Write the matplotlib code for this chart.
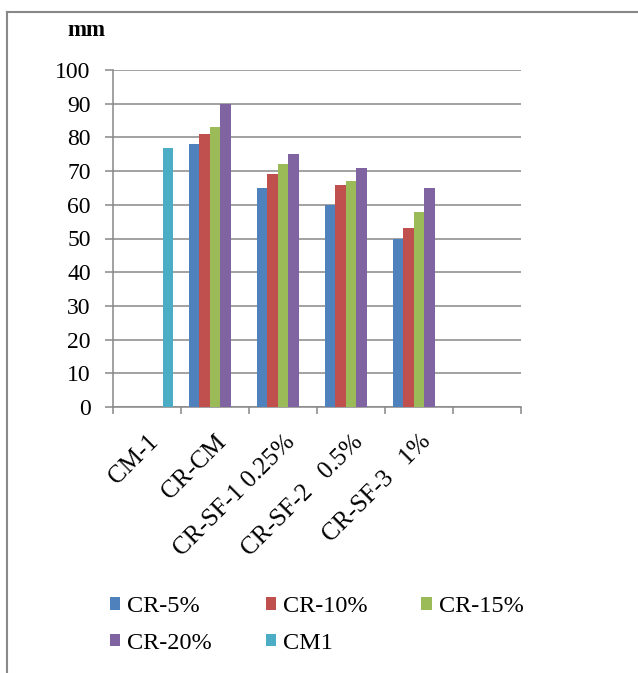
import matplotlib
matplotlib.use("Agg")
import matplotlib.pyplot as plt
import matplotlib.transforms as mtransforms
from matplotlib.lines import Line2D
import numpy as np

nan = np.nan
categories = ["CM-1", "CR-CM", "CR-SF-1 0.25%", "CR-SF-2   0.5%", "CR-SF-3   1%", ""]
series_names = ["CR-5%", "CR-10%", "CR-15%", "CR-20%", "CM1"]
cr5 = [nan, 78, 65, 60, 50, nan]
cr10 = [nan, 81, 69, 66, 53, nan]
cr15 = [nan, 83, 72, 67, 58, nan]
cr20 = [nan, 90, 75, 71, 65, nan]
cm1 = [77, nan, nan, nan, nan, nan]
colors = ["#4F81BD", "#C0504D", "#9BBB59", "#8064A2", "#4BACC6"]

plt.rcParams["font.family"] = ["Liberation Serif", "DejaVu Serif"]
grey = "#888888"

W, H = 638, 673
fig = plt.figure(figsize=(W / 100, H / 100), dpi=100)
ax = fig.add_axes([113 / W, 1 - 407 / H, 408 / W, 337 / H])

x = np.arange(len(categories)) + 0.5
w = 1 / 6.5
all_series = [cr5, cr10, cr15, cr20, cm1]
for k, vals in enumerate(all_series):
    ax.bar(x + (k - 2) * w, vals, width=w, color=colors[k], label=series_names[k], zorder=3)

ax.set_xlim(0, len(categories))
ax.set_ylim(0, 100)
ax.set_yticks(range(0, 101, 10))
ax.grid(axis="y", color=grey, linewidth=1.1)
ax.set_axisbelow(True)
for s in ["top", "right"]:
    ax.spines[s].set_visible(False)
for s in ["left", "bottom"]:
    ax.spines[s].set_color(grey)
    ax.spines[s].set_linewidth(1.1)

ax.tick_params(axis="y", length=6, width=1.1, color=grey, labelsize=17, pad=10)
ax.set_xticks(x)
ax.set_xticklabels(categories, rotation=45, ha="right", va="top", fontsize=18)
ax.set_xticks(np.arange(len(categories) + 1), minor=True)
ax.tick_params(axis="x", which="major", length=0, pad=17)
ax.tick_params(axis="x", which="minor", length=5, width=1.1, color=grey)
offset = mtransforms.ScaledTranslation(0.16, 0, fig.dpi_scale_trans)
for lab in ax.get_xticklabels():
    lab.set_transform(lab.get_transform() + offset)

fig.text(67 / W, 1 - 30 / H, "mm", fontsize=16.5, fontweight="bold", va="center", ha="left")

# outer chart frame
fig.add_artist(Line2D([7 / W, 1], [1 - 12 / H, 1 - 12 / H], color=grey, linewidth=1.5))
fig.add_artist(Line2D([7 / W, 7 / W], [0, 1 - 12 / H], color=grey, linewidth=1.5))

# legend filled row by row
handles, labels = ax.get_legend_handles_labels()
order = [0, 3, 1, 4, 2]
fig.legend([handles[i] for i in order], [labels[i] for i in order], ncol=3, loc="upper left",
           bbox_to_anchor=(110 / W, 1 - 596 / H), frameon=False,
           fontsize=17.5, handlelength=0.42, handleheight=0.42,
           handletextpad=0.3, columnspacing=2.2, labelspacing=0.65,
           borderpad=0, borderaxespad=0)

fig.savefig("out.png", dpi=100)
